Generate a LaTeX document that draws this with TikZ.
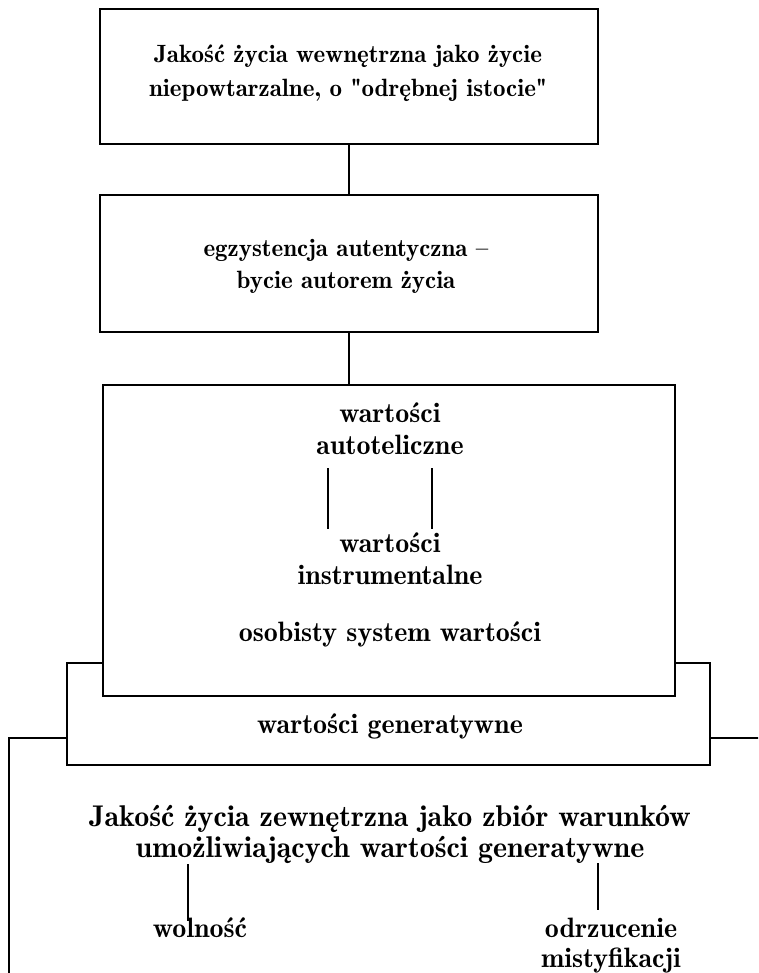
\documentclass[tikz,border=0pt]{standalone}
\usepackage{fontspec}
\begin{document}
\begin{tikzpicture}[x=1pt,y=-1pt,
  every node/.style={inner sep=0pt, anchor=base},
  fa/.style={font=\fontsize{25}{30}\fontseries{b}\selectfont},
  fb/.style={font=\fontsize{28}{33}\fontseries{b}\selectfont},
  fc/.style={font=\fontsize{30}{35}\fontseries{b}\selectfont},
  frame/.style={draw, line width=1.2pt, fill=white},
  link/.style={line width=1.2pt}]
\useasboundingbox (0,0) rectangle (758,973);
\clip (0,0) rectangle (758,973);
% outer boxes (back to front)
\draw[frame] (9,738) rectangle (800,1000);
\draw[frame] (67,663) rectangle (710,765);
\node[frame, anchor=center, minimum width=572pt, minimum height=311pt] (b3) at (389,540.5) {};
\node[frame, anchor=center, minimum width=498pt, minimum height=135pt] (b1) at (349,76.5) {};
\node[frame, anchor=center, minimum width=498pt, minimum height=137pt] (b2) at (349,263.5) {};
\draw[link] (b1.south) -- (b2.north);
\draw[link] (b2.south) -- (b2.south |- b3.north);
% box 1
\node[fa] (t1a) at (348,63) {Jakość życia wewnętrzna jako życie};
\node[fa] (t1b) at (348,97) {niepowtarzalne, o \textquotedbl odrębnej istocie\textquotedbl};
% box 2
\node[fa] (t2a) at (346,257) {egzystencja autentyczna --};
\node[fa] (t2b) at (346,288) {bycie autorem życia};
% box 3
\node[fb] (w1) at (390,422) {wartości};
\node[fb] (auto) at (390,454) {autoteliczne};
\node[fb] (w2) at (390,552) {wartości};
\node[fb] (instr) at (390,584) {instrumentalne};
\node[fb] (osob) at (390,641) {osobisty system wartości};
\coordinate (xl) at (328,0);
\coordinate (xr) at (432,0);
\draw[link] (xl |- 0,468) -- (xl |- 0,529);
\draw[link] (xr |- 0,468) -- (xr |- 0,529);
% box 4
\node[fb] (gen) at (390,733) {wartości generatywne};
% box 5
\node[fc] (z1) at (390,826) {Jakość życia zewnętrzna jako zbiór warunków};
\node[fc] (z2) at (390,857) {umożliwiających wartości generatywne};
\node[fb] (wol) at (200,937) {wolność};
\node[fb] (odr) at (611,937) {odrzucenie};
\node[fb] (mis) at (611,967) {mistyfikacji};
\coordinate (yl) at (188,0);
\coordinate (yr) at (598,0);
\draw[link] (yl |- 0,864) -- (yl |- 0,921);
\draw[link] (yr |- 0,863) -- (yr |- 0,910);
\end{tikzpicture}
\end{document}
